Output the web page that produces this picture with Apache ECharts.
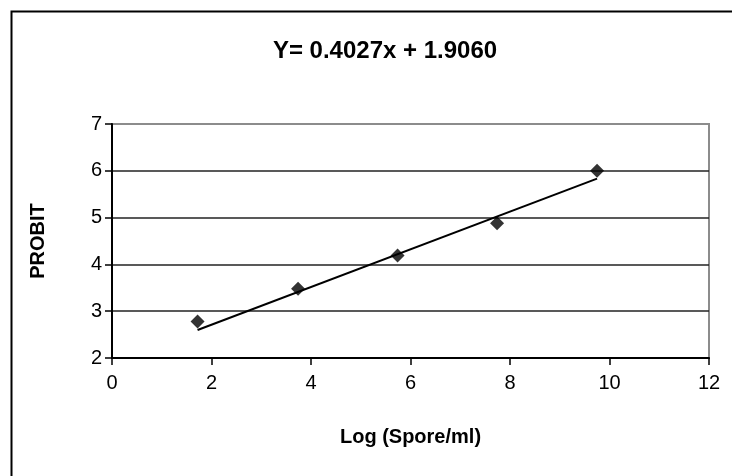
<!DOCTYPE html>
<html lang="en">
<head>
    <meta charset="UTF-8">
    <title>Probit regression</title>
    <script src="https://cdnjs.cloudflare.com/ajax/libs/echarts/6.0.0/echarts.min.js"></script>
    <style>
        html, body { margin: 0; padding: 0; background: #fff; }
        #chart { width: 732px; height: 476px; }
    </style>
</head>
<body>
    <div id="chart"></div>
    <script>
        // observed points
        let logSpore = [1.72, 3.74, 5.74, 7.74, 9.75];
        let probit = [2.78, 3.48, 4.19, 4.88, 6.0];

        // fitted line  Y = a*x + b
        let slope = [0.4027];
        let intercept = [1.9060];

        let xTicks = [0, 2, 4, 6, 8, 10, 12];
        let yTicks = [2, 3, 4, 5, 6, 7];

        let points = logSpore.map((x, i) => [x, probit[i]]);
        let x0 = logSpore[0], x1 = logSpore[logSpore.length - 1];
        let fitLine = [x0, x1].map(x => [x, slope[0] * x + intercept[0]]);

        let font = '"Liberation Sans", Arial, sans-serif';
        let chart = echarts.init(document.getElementById('chart'));
        chart.setOption({
            animation: false,
            title: {
                text: 'Y= ' + slope[0].toFixed(4) + 'x + ' + intercept[0].toFixed(4),
                left: 380, top: 34, textAlign: 'center',
                textStyle: { fontFamily: font, fontSize: 24, fontWeight: 'bold', color: '#000' }
            },
            graphic: [{
                type: 'rect', left: 9, top: 9, silent: true,
                shape: { width: 900, height: 900 },
                style: { fill: 'none', stroke: '#000', lineWidth: 2 }
            }],
            grid: {
                left: 112, top: 124, width: 597, height: 234,
                show: true, borderColor: '#8c8c8c', borderWidth: 2
            },
            xAxis: {
                type: 'value', min: xTicks[0], max: xTicks[xTicks.length - 1], interval: 2,
                name: 'Log (Spore/ml)', nameLocation: 'middle', nameGap: 69,
                nameTextStyle: { fontFamily: font, fontSize: 20, fontWeight: 'bold', color: '#000' },
                axisLine: { lineStyle: { color: '#000', width: 2 } },
                axisTick: { length: 7, lineStyle: { color: '#000', width: 1.5 } },
                axisLabel: { margin: 15, fontFamily: font, fontSize: 20, color: '#000' },
                splitLine: { show: false }
            },
            yAxis: {
                type: 'value', min: yTicks[0], max: yTicks[yTicks.length - 1], interval: 1,
                name: 'PROBIT', nameLocation: 'middle', nameGap: 64,
                nameTextStyle: { fontFamily: font, fontSize: 20, fontWeight: 'bold', color: '#000' },
                axisLine: { lineStyle: { color: '#000', width: 2 } },
                axisTick: { length: 7, lineStyle: { color: '#000', width: 1.5 } },
                axisLabel: { margin: 10, fontFamily: font, fontSize: 20, color: '#000' },
                splitLine: { lineStyle: { color: ['#000', '#222', '#222', '#222', '#222', '#8c8c8c'], width: 1.5 } }
            },
            series: [{
                type: 'line', data: fitLine, symbol: 'none',
                lineStyle: { color: '#000', width: 2 }, z: 2
            }, {
                type: 'scatter', data: points, symbol: 'diamond', symbolSize: 14,
                itemStyle: { color: '#000' }, z: 3
            }]
        });
    </script>
</body>
</html>
